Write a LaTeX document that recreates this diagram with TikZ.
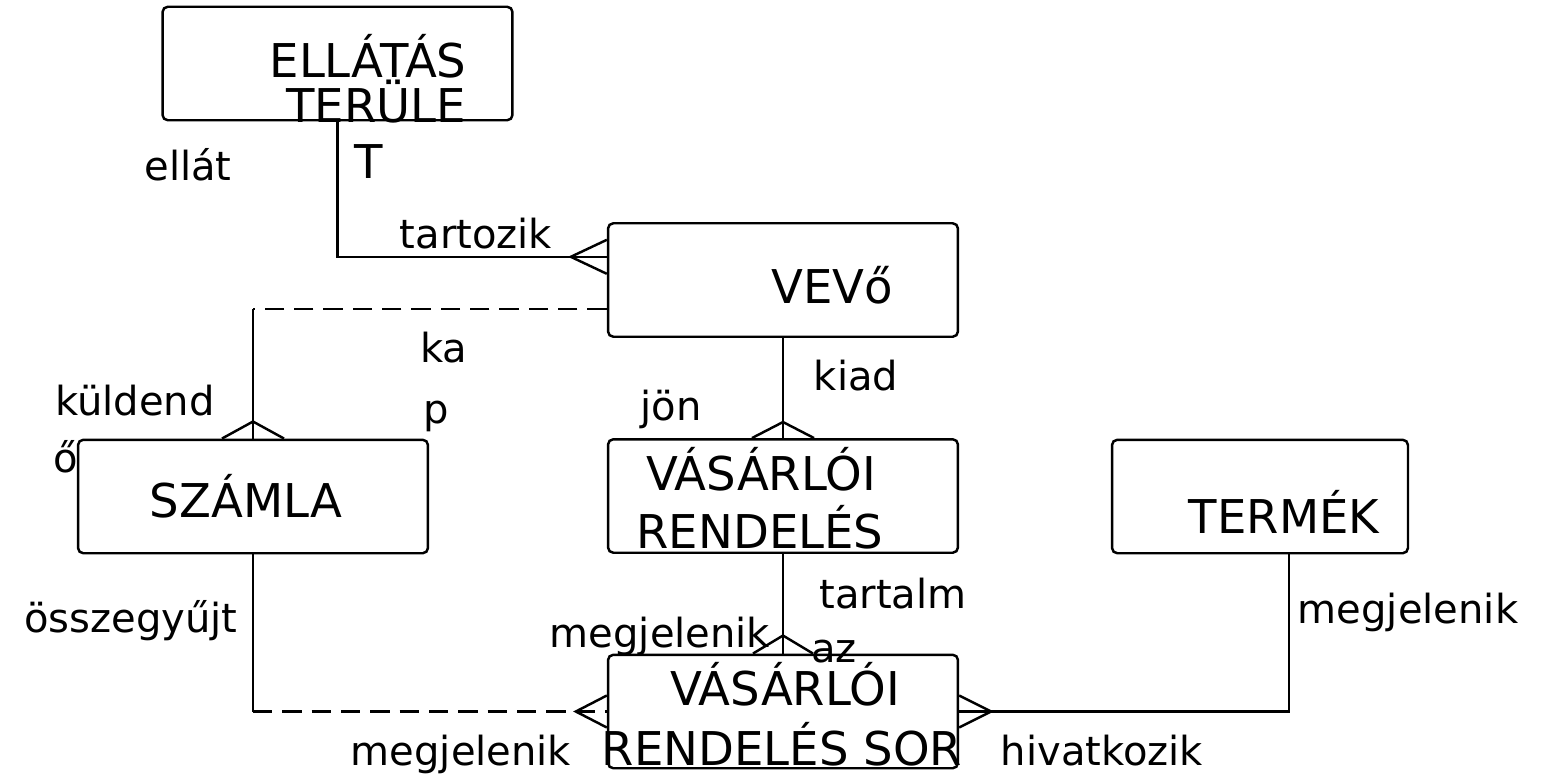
\documentclass[tikz,border=0pt]{standalone}
\usepackage{fontspec}
\setmainfont{DejaVu Sans}
\usepackage{tikz}
\usetikzlibrary{calc}

% crow's foot: foot point, half leg offset, apex offset
\newcommand{\crowfoot}[3]{\draw ($(#1)+(#2)$) -- ($(#1)+(#3)$) -- ($(#1)-(#2)$);}

\begin{document}
\begin{tikzpicture}[x=0.02cm,y=-0.02cm,line width=1.4pt]
  \tikzstyle{entity}=[draw,rounded corners=3pt,minimum width=7cm,minimum height=2.27cm,inner sep=0pt]
  \tikzstyle{ename}=[anchor=base,inner sep=0pt,font=\fontsize{26.5}{30}\selectfont]
  \tikzstyle{rel}=[anchor=base,inner sep=0pt,font=\fontsize{22.8}{27}\selectfont]
  \tikzstyle{opt}=[dash pattern=on 11pt off 5.7pt]

  \useasboundingbox (0,0) rectangle (1565,782);

  \node[entity]                       (E)  at (337.5,63.5) {};
  \node[entity]                       (V)  at (783,280)    {};
  \node[entity]                       (S)  at (253,496.5)  {};
  \node[entity]                       (R)  at (783,496)    {};
  \node[entity,minimum width=5.92cm]  (T)  at (1260,496.5) {};
  \node[entity]                       (RS) at (783,711.5)  {};

  \node[ename] (Et1) at (368,77)  {ELLÁTÁS};
  \node[ename] (Et2) at (376,122) {TERÜLE};
  \node[ename] (Et3) at (369,178) {T};
  \node[ename] (Vt)  at (832,303) {VEVő};
  \node[ename] (St)  at (246,517) {SZÁMLA};
  \node[ename] (Rt1) at (761,490) {VÁSÁRLÓI};
  \node[ename] (Rt2) at (760,548) {RENDELÉS};
  \node[ename] (Tt)  at (1284,533) {TERMÉK};
  \node[ename] (RSt1) at (785,705) {VÁSÁRLÓI};
  \node[ename] (RSt2) at (782,765) {RENDELÉS SOR};

  % ellatas terulet -- vevo
  \coordinate (v1) at ($(V.north west)!.3!(V.south west)$);
  \draw (E.south) |- (v1);
  \crowfoot{v1}{0,-17}{-36,0}
  \node[rel] (l1) at (188,180) {ellát};
  \node[rel] (l2) at (476,248) {tartozik};

  % vevo -- szamla
  \coordinate (v2) at ($(V.north west)!.75!(V.south west)$);
  \draw[opt] (v2) -- (S.north |- v2);
  \draw (S.north |- v2) -- (S.north);
  \crowfoot{S.north}{-31,0}{0,-17}
  \node[rel] (l3) at (444,362) {ka};
  \node[rel,anchor=base west] (l4) at (422,423) {p};
  \node[rel] (l5) at (135,415) {küldend};
  \node[rel,anchor=base west] (l6) at (52,472) {ő};

  % vevo -- vasarloi rendeles
  \draw (V.south) -- (R.north);
  \crowfoot{R.north}{-31,0}{0,-16}
  \node[rel] (l7) at (856,390) {kiad};
  \node[rel] (l8) at (671,420) {jön};

  % vasarloi rendeles -- rendeles sor
  \draw (R.south) -- (RS.north);
  \crowfoot{RS.north}{-30,0}{0,-18}
  \node[rel] (l9)  at (893,608) {tartalm};
  \node[rel] (l10) at (834,662) {az};
  \node[rel] (l11) at (660,647) {megjelenik};

  % szamla -- rendeles sor
  \draw (S.south) -- (S.south |- RS.west);
  \draw[opt] (S.south |- RS.west) -- (RS.west);
  \crowfoot{RS.west}{0,-16}{-31,0}
  \node[rel] (l12) at (131,632) {összegyűjt};
  \node[rel] (l13) at (461,765) {megjelenik};

  % termek -- rendeles sor
  \draw ($(T.south)+(29,0)$) |- (RS.east);
  \crowfoot{RS.east}{0,-16}{32,0}
  \node[rel] (l14) at (1408,623) {megjelenik};
  \node[rel] (l15) at (1102,765) {hivatkozik};
\end{tikzpicture}
\end{document}
